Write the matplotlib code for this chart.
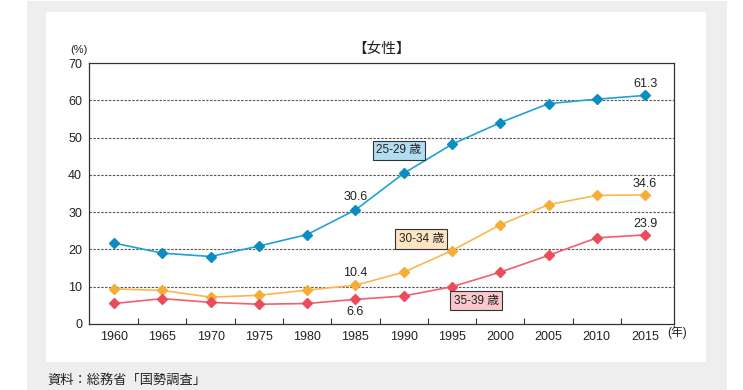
import matplotlib.pyplot as plt
from matplotlib.patches import Rectangle

plt.rcParams['font.family'] = ['Liberation Sans', 'Noto Sans CJK JP', 'DejaVu Sans']

years = [1960, 1965, 1970, 1975, 1980, 1985, 1990, 1995, 2000, 2005, 2010, 2015]
age_25_29 = [21.7, 19.0, 18.1, 20.9, 24.0, 30.6, 40.4, 48.2, 54.0, 59.1, 60.3, 61.3]
age_30_34 = [9.4, 9.0, 7.2, 7.7, 9.1, 10.4, 13.9, 19.7, 26.6, 32.0, 34.5, 34.6]
age_35_39 = [5.5, 6.8, 5.8, 5.3, 5.5, 6.6, 7.5, 10.0, 13.9, 18.4, 23.1, 23.9]

W, H = 743, 390
fig = plt.figure(figsize=(W / 100, H / 100), dpi=100)
fig.patch.set_facecolor('white')

# gray frame and white panel behind the chart
fig.patches.append(Rectangle((27 / W, 0), 700 / W, 389 / H, transform=fig.transFigure,
                             facecolor='#efeeee', edgecolor='none', zorder=-10))
fig.patches.append(Rectangle((46 / W, 1 - 362 / H), 660 / W, 350 / H, transform=fig.transFigure,
                             facecolor='white', edgecolor='none', zorder=-9))

ax = fig.add_axes([89 / W, 1 - 324 / H, 585 / W, 261 / H])
ax.set_facecolor('none')

series = [
    (age_25_29, '#1ea3d2', '#0b8dc2'),
    (age_30_34, '#f8b84e', '#f6ad36'),
    (age_35_39, '#f0606e', '#ea4c5c'),
]
for vals, lc, mc in series:
    ax.plot(years, vals, color=lc, lw=1.2, marker='D', markersize=5.5,
            markerfacecolor=mc, markeredgecolor=mc, zorder=3)

ax.set_xlim(1957.4, 2018.0)
ax.set_ylim(0, 70)
ax.set_yticks(range(0, 71, 10))
ax.set_xticks(years)
ax.set_xticks([y + 2.5 for y in years[:-1]], minor=True)
ax.tick_params(axis='y', length=0, pad=5, labelsize=9, colors='#222222')
ax.tick_params(axis='x', which='major', length=0, pad=5, labelsize=9, colors='#222222')
ax.tick_params(axis='x', which='minor', direction='in', length=4, width=0.8, color='#333333')

for v in range(10, 70, 10):
    ax.axhline(v, color='#555555', lw=0.8, ls=(0, (2.2, 1.3)), zorder=1)

for s in ax.spines.values():
    s.set_color('#333333')
    s.set_linewidth(0.9)

# value labels
lab = dict(ha='center', va='center', fontsize=9, color='#222222')
ax.text(2015, age_25_29[-1] + 3.0, f'{age_25_29[-1]}', **lab)
ax.text(2015, age_30_34[-1] + 3.0, f'{age_30_34[-1]}', **lab)
ax.text(2015, age_35_39[-1] + 3.0, f'{age_35_39[-1]}', **lab)
ax.text(1985, age_25_29[5] + 3.4, f'{age_25_29[5]}', **lab)
ax.text(1985, age_30_34[5] + 3.4, f'{age_30_34[5]}', **lab)
ax.text(1985, age_35_39[5] - 3.5, f'{age_35_39[5]}', **lab)

# series labels
box = dict(ha='center', va='center', fontsize=8.5, color='#222222', zorder=4)
ax.text(1989.5, 46.6, '25-29 歳', bbox=dict(boxstyle='square,pad=0.3', fc='#b2ddf0', ec='#333333', lw=0.8), **box)
ax.text(1991.8, 22.8, '30-34 歳', bbox=dict(boxstyle='square,pad=0.3', fc='#fde4c2', ec='#333333', lw=0.8), **box)
ax.text(1997.5, 6.2, '35-39 歳', bbox=dict(boxstyle='square,pad=0.3', fc='#f8c8cb', ec='#333333', lw=0.8), **box)

fig.text(79 / W, 1 - 50 / H, '(%)', ha='center', va='center', fontsize=8, color='#222222')
fig.text(381 / W, 1 - 49 / H, '【女性】', ha='center', va='center', fontsize=10.5, color='#222222',
         family=['Noto Sans CJK JP', 'DejaVu Sans'])
fig.text(677 / W, 1 - 332 / H, '(年)', ha='center', va='center', fontsize=8.5, color='#222222')
fig.text(47 / W, 1 - 380 / H, '資料：総務省「国勢調査」', ha='left', va='center', fontsize=9.5, color='#222222',
         family=['Noto Sans CJK JP', 'DejaVu Sans'])

fig.savefig('out.png', dpi=100)
